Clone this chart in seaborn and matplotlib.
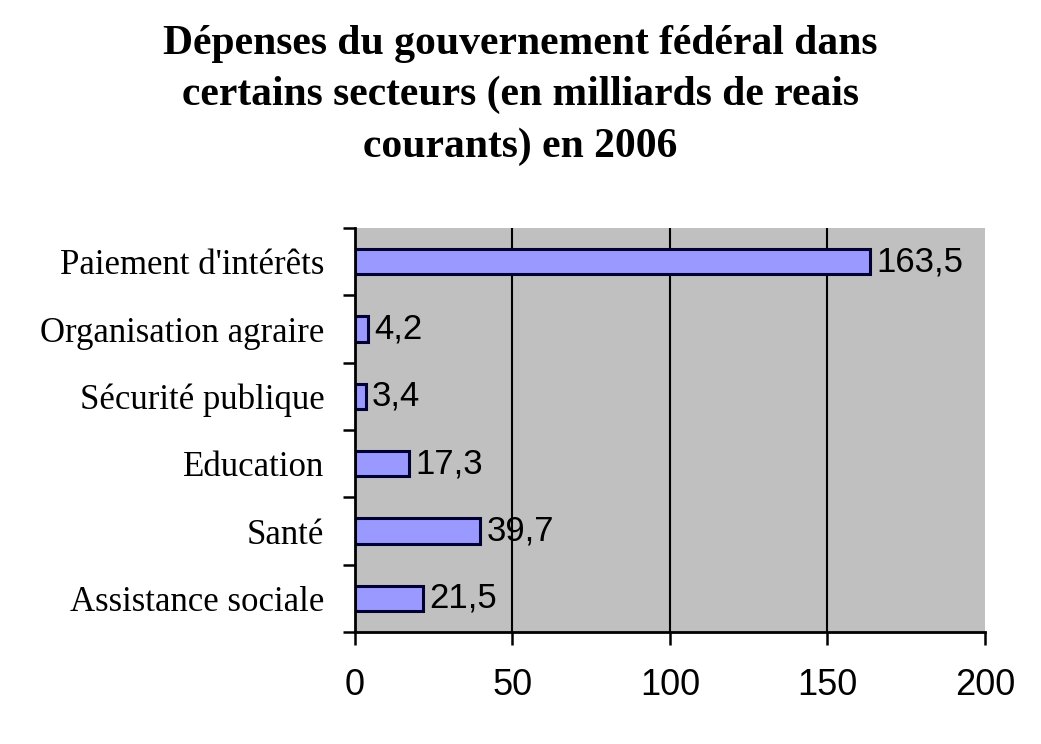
import matplotlib
matplotlib.use("Agg")
import matplotlib.pyplot as plt
import seaborn as sns
import pandas as pd
import numpy as np

categories = ["Paiement d'intérêts", "Organisation agraire", "Sécurité publique",
              "Education", "Santé", "Assistance sociale"]
values = [163.5, 4.2, 3.4, 17.3, 39.7, 21.5]
value_labels = ["163,5", "4,2", "3,4", "17,3", "39,7", "21,5"]
x_ticks = [0, 50, 100, 150, 200]

df = pd.DataFrame({"cat": categories, "val": values})

sns.set_style("white")
plt.rcParams["text.color"] = "black"
plt.rcParams["xtick.color"] = "black"
plt.rcParams["ytick.color"] = "black"
fig = plt.figure(figsize=(10.41, 7.44), dpi=100)
ax = fig.add_axes([0.341, 0.1505, 0.605, 0.543])
ax.set_facecolor("#c0c0c0")

sns.barplot(data=df, x="val", y="cat", orient="h", color="#9999ff",
            edgecolor="#000033", linewidth=2.2, width=0.38, saturation=1, ax=ax)

ax.set_xlim(0, 200)
ax.set_ylim(5.5, -0.5)
ax.set_xticks(x_ticks)
ax.set_xticklabels([str(t) for t in x_ticks], fontsize=26, family="Liberation Sans")
ax.set_xlabel("")
ax.set_ylabel("")
for t in x_ticks[1:-1]:
    ax.axvline(t, color="black", lw=1.5, zorder=0.5)
ax.set_axisbelow(True)

ax.set_yticks(range(len(categories)))
ax.set_yticklabels(categories, fontsize=25, family="Liberation Serif")
ax.tick_params(axis="y", which="major", left=True, length=0, pad=22)
ax.set_yticks(np.arange(-0.5, len(categories), 1.0), minor=True)
ax.tick_params(axis="y", which="minor", left=True, length=9, width=1.8, direction="out", color="black")
ax.tick_params(axis="x", which="major", bottom=True, length=9, width=1.8, direction="out", color="black", pad=17)

for s in ["top", "right"]:
    ax.spines[s].set_visible(False)
for s in ["left", "bottom"]:
    ax.spines[s].set_color("black")
    ax.spines[s].set_linewidth(2)

for i, (v, lab) in enumerate(zip(values, value_labels)):
    ax.text(v + 2, i, lab, va="center", ha="left", fontsize=25, family="Liberation Sans", color="black")

fig.text(0.5, 0.872, "Dépenses du gouvernement fédéral dans\ncertains secteurs (en milliards de reais\ncourants) en 2006",
         ha="center", va="center", fontsize=30, fontweight="bold", family="Liberation Serif",
         linespacing=1.45, color="black")

fig.savefig("out.png", dpi=100, facecolor="white")
